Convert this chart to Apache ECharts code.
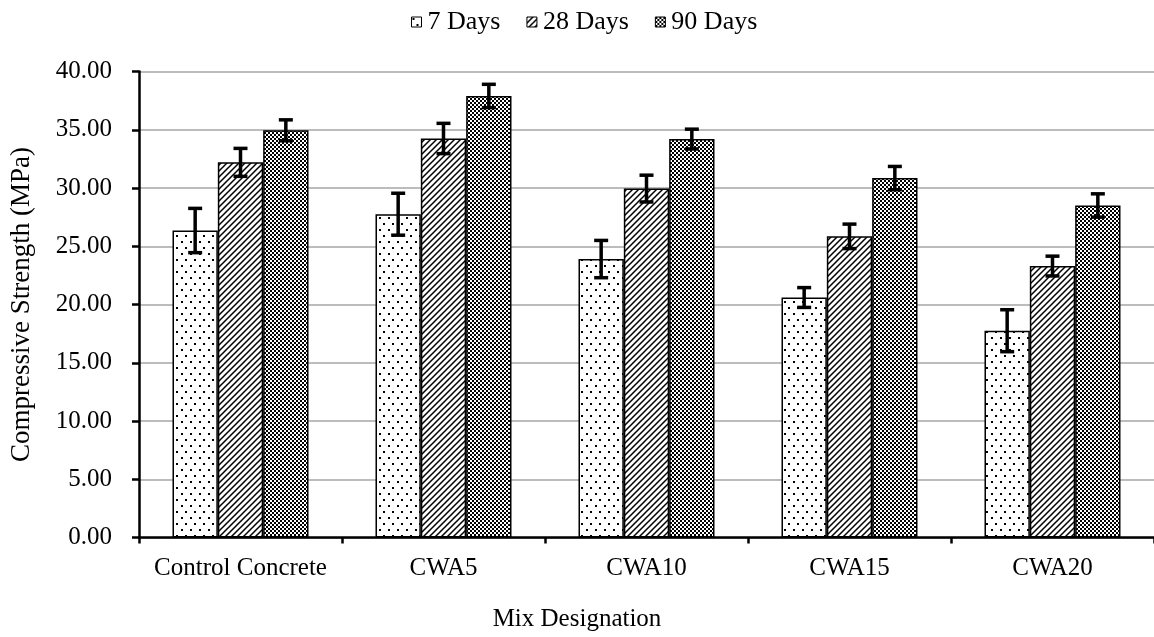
<!DOCTYPE html>
<html>
<head>
<meta charset="utf-8">
<script src="https://cdn.jsdelivr.net/npm/echarts@6/dist/echarts.min.js"></script>
<style>
html,body{margin:0;padding:0;background:#fff;}
#chart{width:1154px;height:637px;}
</style>
</head>
<body>
<div id="chart"></div>
<script>
const categories = ['Control Concrete', 'CWA5', 'CWA10', 'CWA15', 'CWA20'];
const seriesNames = ['7 Days', '28 Days', '90 Days'];
const days7 = [26.35, 27.75, 23.9, 20.6, 17.75];
const err7 = [1.9, 1.8, 1.6, 0.85, 1.8];
const days28 = [32.2, 34.25, 29.95, 25.85, 23.3];
const err28 = [1.2, 1.3, 1.15, 1.05, 0.85];
const days90 = [34.95, 37.9, 34.2, 30.85, 28.5];
const err90 = [0.9, 1.0, 0.85, 1.0, 1.0];
const yTicks = { min: 0, max: 40, step: 5 };
const xTitle = 'Mix Designation';
const yTitle = 'Compressive Strength (MPa)';

const FONT = 'Liberation Serif';

function makeTile(w, h, draw) {
  const c = document.createElement('canvas');
  c.width = w; c.height = h;
  const g = c.getContext('2d');
  g.fillStyle = '#fff';
  g.fillRect(0, 0, w, h);
  draw(g);
  return c;
}
const dotsTile = makeTile(9, 12, g => {
  g.fillStyle = '#000';
  g.fillRect(1, 1, 2, 2);
  g.fillRect(5, 7, 2, 2);
});
const diagTile = makeTile(6, 6, g => {
  g.strokeStyle = '#000';
  g.lineWidth = 1.5;
  g.beginPath();
  g.moveTo(-1, 7); g.lineTo(7, -1);
  g.moveTo(-1, 1); g.lineTo(1, -1);
  g.moveTo(5, 7); g.lineTo(7, 5);
  g.stroke();
});
const checkTile = makeTile(4, 4, g => {
  g.fillStyle = '#000';
  g.fillRect(0, 0, 2, 2);
  g.fillRect(2, 2, 2, 2);
});
const patterns = [dotsTile, diagTile, checkTile];
const values = [days7, days28, days90];
const errors = [err7, err28, err90];
const GAP = 0.33;

const series = [];
seriesNames.forEach((name, i) => {
  series.push({
    name: name,
    type: 'bar',
    data: values[i],
    barGap: '0%',
    barCategoryGap: (GAP * 100) + '%',
    itemStyle: {
      color: { image: patterns[i], repeat: 'repeat' },
      borderColor: '#000',
      borderWidth: 1.5
    },
    emphasis: { disabled: true }
  });
});
seriesNames.forEach((name, i) => {
  series.push({
    name: name + ' error',
    type: 'custom',
    z: 10,
    data: values[i].map((v, k) => [k, v - errors[i][k], v + errors[i][k]]),
    encode: { x: 0, y: [1, 2] },
    renderItem: function (params, api) {
      const k = api.value(0);
      const catW = api.size([1, 0])[0];
      const bw = catW * (1 - GAP) / 3;
      const lo = api.coord([k, api.value(1)]);
      const hi = api.coord([k, api.value(2)]);
      const x = lo[0] + (i - 1) * bw;
      const cap = 7;
      const st = { stroke: '#000', lineWidth: 3.5 };
      return {
        type: 'group',
        children: [
          { type: 'line', shape: { x1: x, y1: hi[1], x2: x, y2: lo[1] }, style: st },
          { type: 'line', shape: { x1: x - cap, y1: hi[1], x2: x + cap, y2: hi[1] }, style: st },
          { type: 'line', shape: { x1: x - cap, y1: lo[1], x2: x + cap, y2: lo[1] }, style: st }
        ]
      };
    },
    silent: true
  });
});

const chart = echarts.init(document.getElementById('chart'), null, { renderer: 'canvas' });
chart.setOption({
  animation: false,
  backgroundColor: '#fff',
  textStyle: { fontFamily: FONT, color: '#000' },
  legend: {
    data: seriesNames,
    top: 4,
    left: 406,
    itemWidth: 10,
    itemHeight: 10,
    itemGap: 26,
    icon: 'rect',
    textStyle: { fontFamily: FONT, fontSize: 26, color: '#000', padding: [0, 0, 0, 1] },
    itemStyle: { borderColor: '#000', borderWidth: 1 }
  },
  grid: { left: 136, right: 0, top: 71.5, bottom: 99.5, containLabel: false },
  xAxis: {
    type: 'category',
    data: categories,
    axisLine: { lineStyle: { color: '#000', width: 2.5 } },
    axisTick: { show: true, length: 6, lineStyle: { color: '#000', width: 2.5 } },
    axisLabel: { interval: 0, margin: 18, fontFamily: FONT, fontSize: 25, color: '#000' },
    splitLine: { show: false }
  },
  yAxis: {
    type: 'value',
    min: yTicks.min,
    max: yTicks.max,
    interval: yTicks.step,
    name: yTitle,
    nameLocation: 'middle',
    nameGap: 104,
    nameTextStyle: { fontFamily: FONT, fontSize: 27, color: '#000' },
    axisLine: { show: true, lineStyle: { color: '#000', width: 2.5 } },
    axisTick: { show: true, length: 7, lineStyle: { color: '#000', width: 2.5 } },
    axisLabel: { margin: 27, fontFamily: FONT, fontSize: 25, color: '#000', formatter: v => v.toFixed(2) },
    splitLine: { show: true, lineStyle: { color: '#a6a6a6', width: 1.5 } }
  },
  graphic: [{
    type: 'text',
    left: 'center',
    top: 607,
    style: { text: xTitle, fontFamily: FONT, fontSize: 25, fill: '#000' }
  }],
  series: series
});
</script>
</body>
</html>
